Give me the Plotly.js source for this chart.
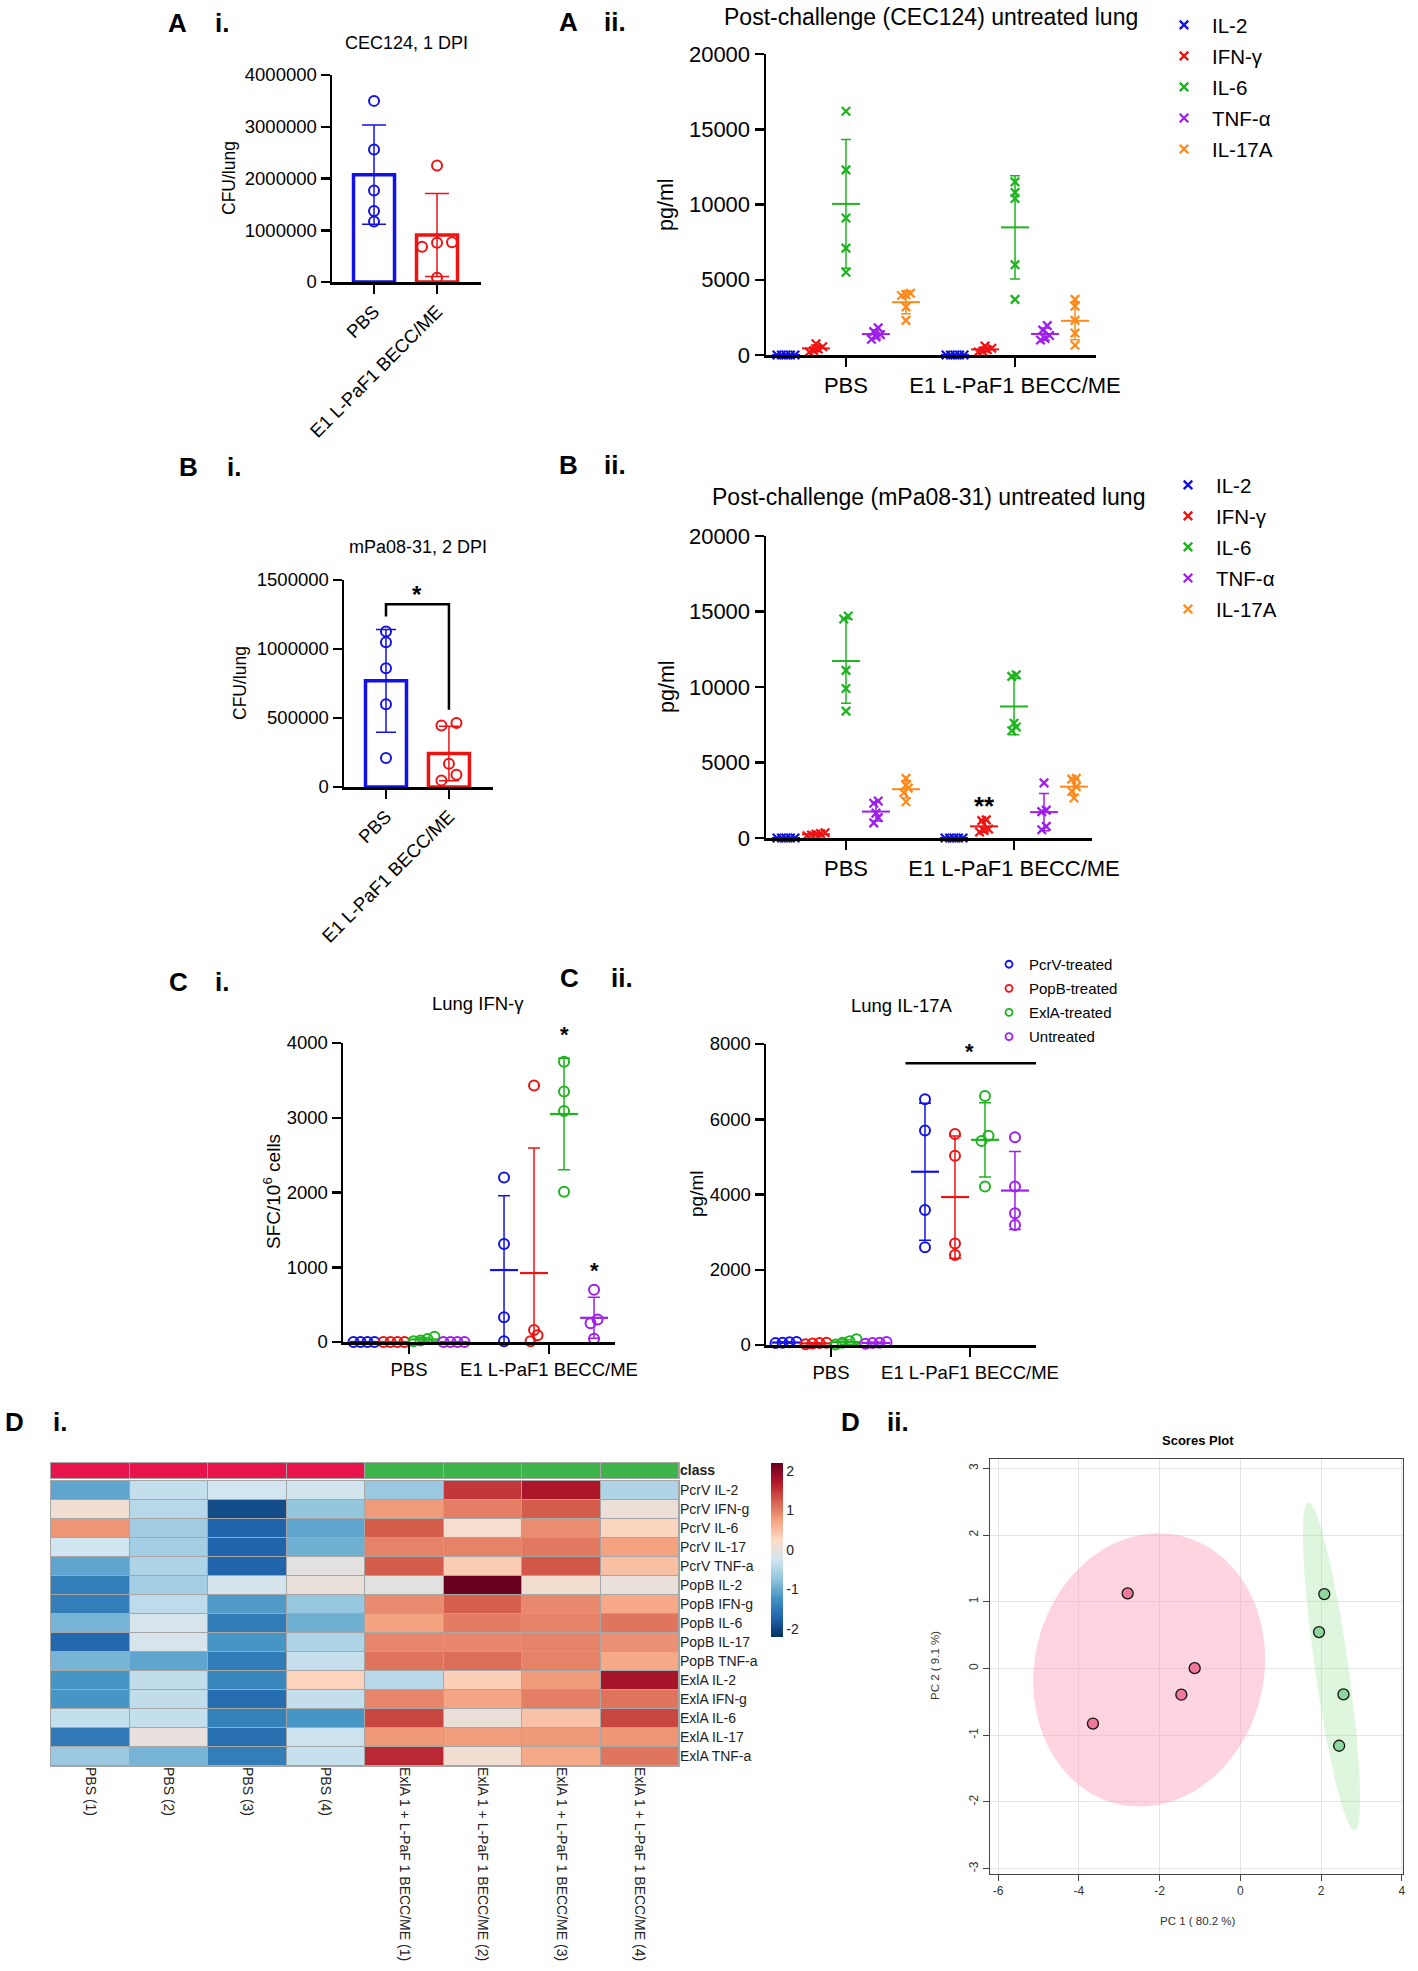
<!DOCTYPE html>
<html><head><meta charset="utf-8">
<script src="https://cdn.plot.ly/plotly-3.0.1.min.js"></script>
<style>html,body{margin:0;padding:0;background:#fff}#chart{width:1418px;height:1971px}</style>
</head><body><div id="chart"></div>
<script>
// ================= DATA =================
const groupLabels = ['PBS', 'E1 L-PaF1 BECC/ME'];
// A i  CFU/lung, CEC124 1 DPI
const cfuA_PBS = [3500000, 2560000, 1770000, 1370000, 1170000];
const cfuA_E1  = [2250000, 770000, 680000, 760000, 80000];
// B i  CFU/lung, mPa08-31 2 DPI
const cfuB_PBS = [1126000, 1049000, 861000, 600000, 210000];
const cfuB_E1  = [463000, 446000, 169000, 89000, 48000];
const sigBi = {yLeft: 1235000, yTop: 1324000, yRight: 560000, starY: 1430000, label: '*'};
// cytokines (A ii, B ii) order: IL-2, IFN-γ, IL-6, TNF-α, IL-17A
const cytokines = ['IL-2', 'IFN-γ', 'IL-6', 'TNF-α', 'IL-17A'];
const cecPBS = [[0,0,0,0,0],[750,550,400,300,200],[16200,12300,9100,7100,5500],[1800,1550,1350,1200,1050],[4100,4000,3950,3200,2300]];
const cecE1  = [[0,0,0,0,0],[600,450,350,250,200],[11500,10800,10400,6000,3700],[1950,1650,1300,1100,1000],[3700,3250,2300,1450,650]];
const mpaPBS = [[0,0,0,0,0],[350,300,250,200,150],[14700,14500,11100,9900,8400],[2300,2450,1650,1350,1000],[3950,3500,3300,3000,2400]];
const mpaE1  = [[0,0,0,0,0],[1200,1150,600,500,400],[10800,10700,7600,7350,7100],[3650,1850,1750,770,550],[3950,3900,3400,3100,2650]];
const sigBii = {cyto: 1, y: 2500, label: '**'};
// C  treatments order: PcrV, PopB, ExlA, Untreated
const treatments = ['PcrV-treated', 'PopB-treated', 'ExlA-treated', 'Untreated'];
const ifnPBS = [[0,0,0,0],[0,0,0,0],[70,40,20,10],[0,0,0,0]];
const ifnE1  = [[2200,1310,330,10],[3430,160,90,10],[3750,3350,3090,2010],[700,300,250,45]];
const sigCi  = [{t: 2, y: 4180, label: '*'}, {t: 3, y: 1020, label: '*'}];
const il17PBS = [[80,60,50,70],[40,60,20,50],[150,100,60,10],[80,50,30,60]];
const il17E1  = [[6530,5700,3590,2600],[5610,5030,2700,2390],[6620,5560,5420,4210],[5520,4210,3500,3190]];
const sigCii = {y: 7490, starY: 7930, label: '*'};
// D i heatmap
const hmCols = ['PBS (1)','PBS (2)','PBS (3)','PBS (4)','ExlA 1 + L-PaF 1 BECC/ME (1)','ExlA 1 + L-PaF 1 BECC/ME (2)','ExlA 1 + L-PaF 1 BECC/ME (3)','ExlA 1 + L-PaF 1 BECC/ME (4)'];
const hmRows = ['PcrV IL-2','PcrV IFN-g','PcrV IL-6','PcrV IL-17','PcrV TNF-a','PopB IL-2','PopB IFN-g','PopB IL-6','PopB IL-17','PopB TNF-a','ExlA IL-2','ExlA IFN-g','ExlA IL-6','ExlA IL-17','ExlA TNF-a'];
const hmZ = [
 [-1.05,-0.35,-0.22,-0.23,-0.68, 1.50, 1.75,-0.50],
 [ 0.10,-0.45,-1.95,-0.72, 0.80, 1.00, 1.25, 0.05],
 [ 0.85,-0.62,-1.72,-1.05, 1.25, 0.15, 0.90, 0.30],
 [-0.25,-0.60,-1.72,-0.95, 0.98, 0.98, 1.05, 0.75],
 [-1.05,-0.52,-1.72,-0.05, 1.25, 0.38, 1.28, 0.50],
 [-1.45,-0.60,-0.20, 0.02,-0.08, 2.20, 0.12, 0.02],
 [-1.45,-0.40,-1.15,-0.70, 0.92, 1.22, 0.93, 0.70],
 [-0.90,-0.18,-1.48,-0.95, 0.75, 1.02, 0.98, 1.07],
 [-1.68,-0.18,-1.20,-0.50, 0.95, 0.95, 0.97, 0.88],
 [-0.90,-1.05,-1.48,-0.33, 1.08, 1.12, 0.98, 0.70],
 [-1.20,-0.37,-1.35, 0.32,-0.43, 0.35, 0.80, 1.78],
 [-1.20,-0.37,-1.62,-0.35, 0.95, 0.72, 1.00, 1.08],
 [-0.35,-0.35,-1.42,-1.20, 1.40, 0.03, 0.48, 1.40],
 [-1.50, 0.00,-1.60,-0.28, 0.82, 0.78, 0.82, 0.85],
 [-0.68,-0.90,-1.45,-0.32, 1.60, 0.12, 0.70, 1.07]
];
const hmClass = [0,0,0,0,1,1,1,1];
const hmTicks = [-2,-1,0,1,2];
// D ii PCA scores
const pcaPBS_x = [-2.79, -3.65, -1.46, -1.13];
const pcaPBS_y = [1.126, -0.825, -0.393, 0.005];
const pcaE1_x  = [2.08, 1.95, 2.556, 2.448];
const pcaE1_y  = [1.115, 0.546, -0.388, -1.158];
const pcaXTicks = [-6,-4,-2,0,2,4];
const pcaYTicks = [-3,-2,-1,0,1,2,3];

// ================= HELPERS =================
const W = 1418, H = 1971;
const F = 'Arial, "Liberation Sans", Helvetica, sans-serif';
const px = x => x / W, py = y => 1 - y / H;
const mean = a => a.reduce((s, v) => s + v, 0) / a.length;
const sd = a => { const m = mean(a); return Math.sqrt(a.reduce((s, v) => s + (v - m) * (v - m), 0) / (a.length - 1)); };
const lbl = v => String(v); // plain hyphen-minus labels
function swarm(vals, cx, kx, ky, step, dist) {
  const idx = vals.map((v, i) => i).sort((a, b) => vals[a] - vals[b]);
  const xs = new Array(vals.length); let row = [];
  const flush = () => { row.forEach((i, j) => { xs[i] = cx + (j - (row.length - 1) / 2) * step / kx; }); row = []; };
  idx.forEach(i => { if (row.length && (vals[i] - vals[row[0]]) * ky >= dist) flush(); row.push(i); });
  flush(); return xs;
}
const BLUE = '#1212E6', RED = '#EE1313', GREEN = '#1FB41F', PURPLE = '#A01EEE', ORANGE = '#FF8A1C';
const CYC = [BLUE, RED, GREEN, PURPLE, ORANGE];
const TRC = [BLUE, RED, GREEN, PURPLE];

const pnl = {
  Ai:  {n: 1, xd: [332, 481],  yd: [75, 282],    xr: [-0.667, 1.698], yr: [0, 4000000], dt: 1000000, fs: 18.5, ang: -45},
  Aii: {n: 2, xd: [766, 1096], yd: [54, 355],    xr: [-0.473, 1.479], yr: [0, 20000],   dt: 5000,    fs: 22, ang: 0},
  Bi:  {n: 3, xd: [344, 493],  yd: [580, 787],   xr: [-0.667, 1.70],  yr: [0, 1500000], dt: 500000,  fs: 18.5, ang: -45},
  Bii: {n: 4, xd: [766, 1092], yd: [536, 838],   xr: [-0.476, 1.464], yr: [0, 20000],   dt: 5000,    fs: 22, ang: 0},
  Ci:  {n: 5, xd: [343, 615],  yd: [1043, 1342], xr: [-0.471, 1.471], yr: [0, 4000],    dt: 1000,    fs: 18.5, ang: 0},
  Cii: {n: 6, xd: [766, 1036], yd: [1044, 1345], xr: [-0.468, 1.475], yr: [0, 8000],    dt: 2000,    fs: 18.5, ang: 0}
};
const ax = p => ({xa: 'x' + (p.n === 1 ? '' : p.n), ya: 'y' + (p.n === 1 ? '' : p.n)});
const kx = p => (p.xd[1] - p.xd[0]) / (p.xr[1] - p.xr[0]);
const ky = p => (p.yd[1] - p.yd[0]) / (p.yr[1] - p.yr[0]);
const toPaperX = (p, x) => px(p.xd[0] + (x - p.xr[0]) * kx(p));
const toPaperY = (p, y) => py(p.yd[1] - (y - p.yr[0]) * ky(p));

const traces = [], ann = [], shapes = [];
const layout = {width: W, height: H, margin: {l: 0, r: 0, t: 0, b: 0}, paper_bgcolor: '#fff', plot_bgcolor: 'rgba(0,0,0,0)',
  font: {family: F, color: '#000'}, showlegend: true, annotations: ann, shapes: shapes, hovermode: false};

function prismAxes(p) {
  const s = p.n === 1 ? '' : p.n; const a = ax(p);
  layout['xaxis' + s] = {domain: [px(p.xd[0]), px(p.xd[1])], range: p.xr, anchor: a.ya, tickmode: 'array', tickvals: [0, 1], ticktext: groupLabels,
    tickangle: p.ang, showline: true, linecolor: '#000', linewidth: 2.5, ticks: 'outside', ticklen: 9, tickwidth: 2.5, tickcolor: '#000',
    showgrid: false, zeroline: false, tickfont: {family: F, size: p.fs, color: '#000'}, fixedrange: true};
  layout['yaxis' + s] = {domain: [py(p.yd[1]), py(p.yd[0])], range: p.yr, anchor: a.xa, tick0: 0, dtick: p.dt, tickformat: 'd',
    showline: true, linecolor: '#000', linewidth: 2.5, ticks: 'outside', ticklen: 9, tickwidth: 2.5, tickcolor: '#000',
    showgrid: false, zeroline: false, tickfont: {family: F, size: p.fs, color: '#000'}, fixedrange: true};
}
function txt(x, y, text, size, o) {
  return Object.assign({xref: 'paper', yref: 'paper', x: px(x), y: py(y), text: text, showarrow: false,
    font: {family: F, size: size, color: '#000'}, xanchor: 'center', yanchor: 'middle'}, o || {});
}
function star(p, x, y, label, size) {
  ann.push({xref: 'paper', yref: 'paper', x: toPaperX(p, x), y: toPaperY(p, y), text: '<b>' + label + '</b>', showarrow: false,
    font: {family: F, size: size, color: '#000'}, xanchor: 'center', yanchor: 'middle', yshift: -0.22 * size});
}

// ---------- bar panels (A i, B i) ----------
function barPanel(p, pbs, e1, capW) {
  prismAxes(p); const a = ax(p);
  [pbs, e1].forEach((vals, g) => {
    const col = g === 0 ? BLUE : RED;
    traces.push({type: 'bar', x: [g], y: [mean(vals)], width: 41 / kx(p), xaxis: a.xa, yaxis: a.ya, showlegend: false,
      marker: {color: '#fff', line: {color: col, width: 3.5}},
      error_y: {type: 'data', array: [sd(vals)], color: col, thickness: 1.5, width: capW}});
    traces.push({type: 'scatter', mode: 'markers', x: swarm(vals, g, kx(p), ky(p), 15, 10), y: vals, xaxis: a.xa, yaxis: a.ya,
      showlegend: false, cliponaxis: false, marker: {symbol: 'circle-open', size: 10, color: col, line: {width: 2, color: col}}});
  });
}
barPanel(pnl.Ai, cfuA_PBS, cfuA_E1, 12);
barPanel(pnl.Bi, cfuB_PBS, cfuB_E1, 10);
shapes.push({type: 'path', xref: 'x3', yref: 'y3', path: `M 0 ${sigBi.yLeft} L 0 ${sigBi.yTop} L 1 ${sigBi.yTop} L 1 ${sigBi.yRight}`,
  line: {color: '#000', width: 2.5}});
star(pnl.Bi, 0.5, sigBi.starY, sigBi.label, 24);

// ---------- cytokine scatter panels (A ii, B ii) ----------
function cytoPanel(p, pbsArr, e1Arr, legendId) {
  prismAxes(p); const a = ax(p); const s = 30 / kx(p);
  cytokines.forEach((c, k) => {
    const off = (k - 2) * s; const g = [pbsArr[k], e1Arr[k]];
    traces.push({type: 'scatter', mode: 'markers', x: [off, 1 + off], y: g.map(mean), xaxis: a.xa, yaxis: a.ya, showlegend: false,
      marker: {symbol: 'line-ew', size: 20, color: CYC[k], line: {width: 2, color: CYC[k]}},
      error_y: {type: 'data', array: g.map(sd), color: CYC[k], thickness: 1.5, width: 5}});
    const xs = [], ys = [];
    g.forEach((vals, gi) => { const sx = swarm(vals, gi + off, kx(p), ky(p), 4.5, 6); vals.forEach((v, i) => { xs.push(sx[i]); ys.push(v); }); });
    traces.push({type: 'scatter', mode: 'markers', x: xs, y: ys, name: c, legend: legendId, legendgroup: legendId + c, xaxis: a.xa, yaxis: a.ya, cliponaxis: false,
      marker: {symbol: 'x-thin', size: 8.5, color: CYC[k], line: {width: 2.3, color: CYC[k]}}});
  });
}
cytoPanel(pnl.Aii, cecPBS, cecE1, 'legend');
cytoPanel(pnl.Bii, mpaPBS, mpaE1, 'legend2');
star(pnl.Bii, 1 + (sigBii.cyto - 2) * 30 / kx(pnl.Bii), sigBii.y, sigBii.label, 26);

// ---------- treatment panels (C i, C ii) ----------
function treatPanel(p, pbsArr, e1Arr) {
  prismAxes(p); const a = ax(p); const s = 30 / kx(p);
  treatments.forEach((t, k) => {
    const off = (k - 1.5) * s; const g = [pbsArr[k], e1Arr[k]];
    traces.push({type: 'scatter', mode: 'markers', x: [off, 1 + off], y: g.map(mean), xaxis: a.xa, yaxis: a.ya, showlegend: false,
      marker: {symbol: 'line-ew', size: 20, color: TRC[k], line: {width: 2.2, color: TRC[k]}},
      error_y: {type: 'data', array: g.map(sd), color: TRC[k], thickness: 1.5, width: 6}});
    const xs = [], ys = [];
    g.forEach((vals, gi) => { const sx = swarm(vals, gi + off, kx(p), ky(p), 7, 10); vals.forEach((v, i) => { xs.push(sx[i]); ys.push(v); }); });
    traces.push({type: 'scatter', mode: 'markers', x: xs, y: ys, name: t, showlegend: false, xaxis: a.xa, yaxis: a.ya,
      cliponaxis: false, marker: {symbol: 'circle-open', size: 10, color: TRC[k], line: {width: 2, color: TRC[k]}}});
  });
  return s;
}
const sC1 = treatPanel(pnl.Ci, ifnPBS, ifnE1);
sigCi.forEach(o => star(pnl.Ci, 1 + (o.t - 1.5) * sC1, o.y, o.label, 22));
const sC2 = treatPanel(pnl.Cii, il17PBS, il17E1);
shapes.push({type: 'line', xref: 'x6', yref: 'y6', x0: 1 - 2.15 * sC2, x1: 1 + 2.3 * sC2, y0: sigCii.y, y1: sigCii.y, line: {color: '#000', width: 2.5}});
star(pnl.Cii, 1, sigCii.starY, sigCii.label, 22);
// legend entries for C ii (legend-only, smaller symbols as in the original key)
treatments.forEach((t, k) => traces.push({type: 'scatter', mode: 'markers', x: [null], y: [null], name: t, legend: 'legend3', legendgroup: 'c' + k,
  xaxis: 'x6', yaxis: 'y6', marker: {symbol: 'circle-open', size: 7, color: TRC[k], line: {width: 1.8, color: TRC[k]}}}));

// ---------- D i heatmap ----------
const hm = {xd: [51, 679], yd: [1481, 1766], cd: [1463, 1478]};
const rdbu = [[0, '#053061'], [1/9, '#2166AC'], [2/9, '#4393C3'], [3/9, '#92C5DE'], [4/9, '#D1E5F0'], [5/9, '#FDDBC7'], [6/9, '#F4A582'], [7/9, '#D6604D'], [8/9, '#B2182B'], [1, '#67001F']];
shapes.push({type: 'rect', xref: 'paper', yref: 'paper', x0: px(hm.xd[0] - 1), x1: px(hm.xd[1] + 1), y0: py(hm.yd[1] + 1), y1: py(hm.yd[0] - 1), fillcolor: '#A6A6A6', line: {width: 0}, layer: 'below'});
shapes.push({type: 'rect', xref: 'paper', yref: 'paper', x0: px(hm.xd[0] - 1), x1: px(hm.xd[1] + 1), y0: py(hm.cd[1] + 1), y1: py(hm.cd[0] - 1), fillcolor: '#A6A6A6', line: {width: 0}, layer: 'below'});
traces.push({type: 'heatmap', z: hmZ, x: hmCols, y: hmRows, xaxis: 'x7', yaxis: 'y7', colorscale: rdbu, zmin: -2.2, zmax: 2.2, xgap: 1, ygap: 1,
  colorbar: {x: px(771), xanchor: 'left', y: py(1550), yanchor: 'middle', len: 174, lenmode: 'pixels', thickness: 12, thicknessmode: 'pixels',
    outlinewidth: 0, tickmode: 'array', tickvals: hmTicks, ticktext: hmTicks.map(lbl), ticks: '', tickfont: {family: F, size: 14, color: '#222'}, xpad: 0, ypad: 0}});
traces.push({type: 'heatmap', z: [hmClass], x: hmCols, y: ['class'], xaxis: 'x8', yaxis: 'y8', colorscale: [[0, '#E8134B'], [1, '#3CB44A']],
  showscale: false, xgap: 1, ygap: 0, zmin: 0, zmax: 1});
layout.xaxis7 = {domain: [px(hm.xd[0]), px(hm.xd[1])], anchor: 'y7', type: 'category', tickangle: 90, ticks: '', showline: false, showgrid: false,
  zeroline: false, tickfont: {family: F, size: 14, color: '#222'}, fixedrange: true};
layout.yaxis7 = {domain: [py(hm.yd[1]), py(hm.yd[0])], anchor: 'x7', type: 'category', side: 'right', autorange: 'reversed', ticks: '',
  showline: false, showgrid: false, zeroline: false, tickfont: {family: F, size: 14, color: '#222'}, fixedrange: true};
layout.xaxis8 = {domain: [px(hm.xd[0]), px(hm.xd[1])], anchor: 'y8', type: 'category', showticklabels: false, ticks: '', showline: false, showgrid: false, zeroline: false, fixedrange: true};
layout.yaxis8 = {domain: [py(hm.cd[1]), py(hm.cd[0])], anchor: 'x8', type: 'category', side: 'right', tickmode: 'array', tickvals: ['class'], ticktext: ['<b>class</b>'],
  ticks: '', showline: false, showgrid: false, zeroline: false, tickfont: {family: F, size: 14, color: '#222'}, fixedrange: true};

// ---------- D ii scores plot ----------
function ellipse(xs, ys, n) {
  const mx = mean(xs), my = mean(ys), sx = sd(xs), sy = sd(ys);
  const cov = xs.reduce((s, v, i) => s + (v - mx) * (ys[i] - my), 0) / (xs.length - 1);
  const d = Math.acos(cov / (sx * sy)), t = Math.sqrt(5.991464547);
  const ex = [], ey = [];
  for (let i = 0; i <= n; i++) { const a = 2 * Math.PI * i / n; ex.push(mx + t * sx * Math.cos(a + d / 2)); ey.push(my + t * sy * Math.cos(a - d / 2)); }
  return {ex, ey};
}
const eP = ellipse(pcaPBS_x, pcaPBS_y, 120), eE = ellipse(pcaE1_x, pcaE1_y, 120);
traces.push({type: 'scatter', mode: 'lines', x: eP.ex, y: eP.ey, fill: 'toself', fillcolor: 'rgba(250,160,185,0.45)', line: {width: 0, color: 'rgba(0,0,0,0)'}, xaxis: 'x9', yaxis: 'y9', showlegend: false});
traces.push({type: 'scatter', mode: 'lines', x: eE.ex, y: eE.ey, fill: 'toself', fillcolor: 'rgba(160,230,160,0.35)', line: {width: 0, color: 'rgba(0,0,0,0)'}, xaxis: 'x9', yaxis: 'y9', showlegend: false});
traces.push({type: 'scatter', mode: 'markers', x: pcaPBS_x, y: pcaPBS_y, xaxis: 'x9', yaxis: 'y9', showlegend: false, marker: {size: 11, color: '#F0789A', line: {width: 1.3, color: '#111'}}});
traces.push({type: 'scatter', mode: 'markers', x: pcaE1_x, y: pcaE1_y, xaxis: 'x9', yaxis: 'y9', showlegend: false, marker: {size: 11, color: '#8ED6A0', line: {width: 1.3, color: '#111'}}});
const pcaAx = {showline: true, mirror: true, linecolor: '#444', linewidth: 1, ticks: 'outside', ticklen: 6, tickcolor: '#444', showgrid: true, gridcolor: '#E4E4E4',
  zeroline: false, tickfont: {family: F, size: 12, color: '#333'}, fixedrange: true, tickmode: 'array'};
layout.xaxis9 = Object.assign({domain: [px(990), px(1403)], anchor: 'y9', range: [-6.2, 4.03], tickvals: pcaXTicks, ticktext: pcaXTicks.map(lbl)}, pcaAx);
layout.yaxis9 = Object.assign({domain: [py(1874), py(1459)], anchor: 'x9', range: [-3.08, 3.14], tickvals: pcaYTicks, ticktext: pcaYTicks.map(lbl), tickangle: -90}, pcaAx);

// ---------- legends ----------
const legBase = {xanchor: 'left', yanchor: 'top', bgcolor: 'rgba(0,0,0,0)', borderwidth: 0};
layout.legend  = Object.assign({x: px(1156), y: py(5), itemwidth: 46, tracegroupgap: 1.4, font: {family: F, size: 20.5, color: '#000'}}, legBase);
layout.legend2 = Object.assign({x: px(1160), y: py(465), itemwidth: 46, tracegroupgap: 1.4, font: {family: F, size: 20.5, color: '#000'}}, legBase);
layout.legend3 = Object.assign({x: px(989), y: py(948), tracegroupgap: 1.6, font: {family: F, size: 15, color: '#000'}}, legBase);

// ---------- texts ----------
const PL = [['A', 177, 23], ['i.', 222, 23], ['A', 568, 22], ['ii.', 615, 22], ['B', 189, 467], ['i.', 234, 467], ['B', 568, 465], ['ii.', 615, 465],
  ['C', 178, 982], ['i.', 222, 982], ['C', 569, 978], ['ii.', 622, 978], ['D', 14, 1422], ['i.', 60, 1422], ['D', 851, 1422], ['ii.', 898, 1422]];
PL.forEach(([t, x, y]) => ann.push(txt(x, y, '<b>' + t + '</b>', 26)));
ann.push(txt(406, 43, 'CEC124, 1 DPI', 18));
ann.push(txt(229, 178, 'CFU/lung', 17.5, {textangle: -90}));
ann.push(txt(931, 17, 'Post-challenge (CEC124) untreated lung', 23));
ann.push(txt(666, 205, 'pg/ml', 21.5, {textangle: -90}));
ann.push(txt(418, 547, 'mPa08-31, 2 DPI', 18));
ann.push(txt(240, 683, 'CFU/lung', 17.5, {textangle: -90}));
ann.push(txt(928, 497, 'Post-challenge (mPa08-31) untreated lung', 23));
ann.push(txt(667, 687, 'pg/ml', 21.5, {textangle: -90}));
ann.push(txt(478, 1003, 'Lung IFN-γ', 18.5));
ann.push(txt(272, 1192, 'SFC/10<sup>6</sup> cells', 19, {textangle: -90}));
ann.push(txt(901, 1005, 'Lung IL-17A', 18.5));
ann.push(txt(696, 1194, 'pg/ml', 19, {textangle: -90}));
ann.push(txt(1198, 1440, '<b>Scores Plot</b>', 13));
ann.push(txt(1198, 1921, 'PC 1 ( 80.2 %)', 11.5, {font: {family: F, size: 11.5, color: '#333'}}));
ann.push(txt(935, 1666, 'PC 2 ( 9.1 %)', 11.5, {textangle: -90, font: {family: F, size: 11.5, color: '#333'}}));

traces.forEach(t => { if (!t.hoverinfo) t.hoverinfo = 'skip'; });
Plotly.newPlot('chart', traces, layout, {displayModeBar: false, staticPlot: true});
</script></body></html>
